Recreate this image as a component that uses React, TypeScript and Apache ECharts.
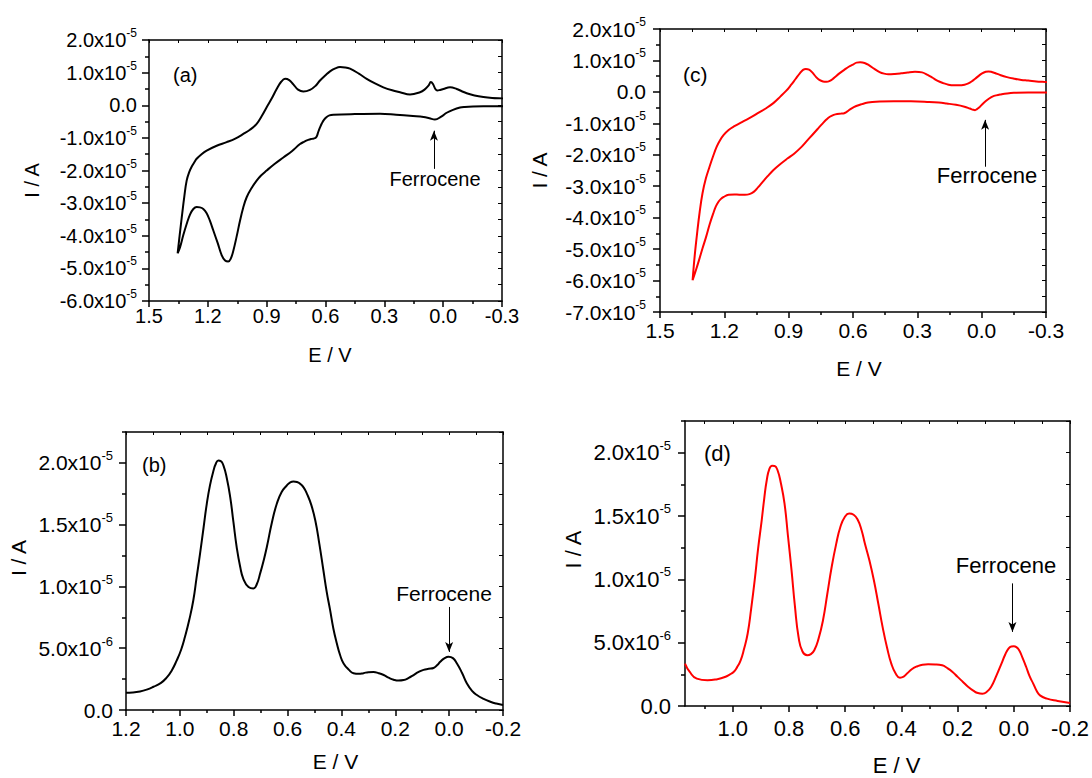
import React, { useEffect, useRef } from "react";
import * as echarts from "echarts";

const FONT = '"Liberation Sans", Arial, Helvetica, sans-serif';

// ---------- Panel (a): CV, black ----------
const cvA_E = [
  1.354, 1.343, 1.333, 1.320, 1.308, 1.295, 1.282, 1.268, 1.257, 1.232, 1.206, 1.155, 1.104, 1.060, 1.019, 0.985,
  0.951, 0.925, 0.900, 0.873, 0.849, 0.826, 0.806, 0.785, 0.764, 0.740, 0.713, 0.679, 0.650, 0.628, 0.600, 0.577,
  0.550, 0.526, 0.500, 0.475, 0.430, 0.390, 0.345, 0.305, 0.260, 0.220, 0.169, 0.118, 0.095, 0.075, 0.063, 0.052,
  0.040, 0.030, 0.015, -0.001, -0.035, -0.069, -0.095, -0.120, -0.160, -0.205, -0.250, -0.310,
  -0.310, -0.205, -0.152, -0.110, -0.086, -0.050, -0.018, 0.010, 0.042, 0.070, 0.100, 0.154, 0.240, 0.322, 0.450,
  0.560, 0.580, 0.594, 0.607, 0.619, 0.628, 0.637, 0.645, 0.653, 0.670, 0.688, 0.710, 0.730, 0.770, 0.815, 0.860,
  0.900, 0.930, 0.951, 0.975, 1.002, 1.020, 1.036, 1.053, 1.070, 1.083, 1.096, 1.112, 1.129, 1.150, 1.172, 1.190,
  1.206, 1.223, 1.240, 1.257, 1.274, 1.291, 1.308, 1.325, 1.342, 1.354,
];
const cvA_I = [
  -4.54e-5, -3.95e-5, -3.44e-5, -2.8e-5, -2.31e-5, -2.05e-5, -1.88e-5, -1.74e-5, -1.64e-5, -1.5e-5, -1.39e-5,
  -1.24e-5, -1.13e-5, -1.02e-5, -0.88e-5, -0.75e-5, -0.57e-5, -0.33e-5, -0.06e-5, 0.22e-5, 0.5e-5, 0.72e-5,
  0.81e-5, 0.77e-5, 0.64e-5, 0.48e-5, 0.42e-5, 0.47e-5, 0.6e-5, 0.76e-5, 0.92e-5, 1.04e-5, 1.13e-5, 1.17e-5,
  1.16e-5, 1.12e-5, 0.97e-5, 0.81e-5, 0.66e-5, 0.55e-5, 0.46e-5, 0.4e-5, 0.33e-5, 0.4e-5, 0.48e-5, 0.6e-5,
  0.71e-5, 0.65e-5, 0.5e-5, 0.45e-5, 0.47e-5, 0.5e-5, 0.55e-5, 0.5e-5, 0.43e-5, 0.37e-5, 0.3e-5, 0.25e-5,
  0.22e-5, 0.2e-5,
  -0.03e-5, -0.03e-5, -0.035e-5, -0.05e-5, -0.07e-5, -0.14e-5, -0.23e-5, -0.35e-5, -0.44e-5, -0.4e-5, -0.36e-5,
  -0.33e-5, -0.29e-5, -0.26e-5, -0.27e-5, -0.29e-5, -0.31e-5, -0.36e-5, -0.44e-5, -0.56e-5, -0.68e-5, -0.82e-5,
  -0.96e-5, -1.01e-5, -1.03e-5, -1.06e-5, -1.12e-5, -1.19e-5, -1.4e-5, -1.6e-5, -1.8e-5, -2.0e-5, -2.16e-5,
  -2.31e-5, -2.52e-5, -2.82e-5, -3.15e-5, -3.54e-5, -4.02e-5, -4.46e-5, -4.7e-5, -4.79e-5, -4.76e-5, -4.6e-5,
  -4.22e-5, -3.84e-5, -3.53e-5, -3.31e-5, -3.18e-5, -3.13e-5, -3.12e-5, -3.18e-5, -3.35e-5, -3.64e-5, -3.98e-5,
  -4.36e-5, -4.54e-5,
];

// ---------- Panel (c): CV, red ----------
const cvC_E = [
  1.348, 1.338, 1.327, 1.315, 1.302, 1.286, 1.269, 1.252, 1.236, 1.220, 1.203, 1.180, 1.153, 1.110, 1.071, 1.040,
  1.005, 0.970, 0.939, 0.912, 0.889, 0.868, 0.848, 0.833, 0.820, 0.805, 0.790, 0.772, 0.757, 0.740, 0.724, 0.708,
  0.691, 0.665, 0.641, 0.620, 0.600, 0.583, 0.567, 0.546, 0.526, 0.500, 0.476, 0.455, 0.435, 0.405, 0.377, 0.345,
  0.311, 0.278, 0.252, 0.229, 0.205, 0.179, 0.155, 0.130, 0.105, 0.080, 0.062, 0.047, 0.030, 0.014, -0.002,
  -0.019, -0.032, -0.044, -0.062, -0.085, -0.118, -0.151, -0.185, -0.217, -0.255, -0.310,
  -0.310, -0.217, -0.150, -0.118, -0.090, -0.068, -0.050, -0.035, -0.018, -0.002, 0.012, 0.022, 0.031, 0.039,
  0.055, 0.080, 0.120, 0.163, 0.200, 0.245, 0.330, 0.410, 0.493, 0.530, 0.559, 0.585, 0.608, 0.622, 0.633, 0.641,
  0.655, 0.674, 0.690, 0.708, 0.724, 0.741, 0.765, 0.790, 0.815, 0.840, 0.872, 0.906, 0.940, 0.972, 0.998, 1.021,
  1.042, 1.063, 1.083, 1.104, 1.130, 1.153, 1.180, 1.203, 1.217, 1.228, 1.240, 1.252, 1.268, 1.285, 1.302, 1.318,
  1.333, 1.348,
];
const cvC_I = [
  -5.99e-5, -5.2e-5, -4.5e-5, -3.82e-5, -3.23e-5, -2.75e-5, -2.38e-5, -2.04e-5, -1.75e-5, -1.54e-5, -1.37e-5,
  -1.21e-5, -1.09e-5, -0.93e-5, -0.79e-5, -0.66e-5, -0.52e-5, -0.35e-5, -0.15e-5, 0.03e-5, 0.22e-5, 0.41e-5,
  0.59e-5, 0.7e-5, 0.73e-5, 0.71e-5, 0.62e-5, 0.47e-5, 0.38e-5, 0.33e-5, 0.32e-5, 0.35e-5, 0.43e-5, 0.58e-5,
  0.7e-5, 0.8e-5, 0.87e-5, 0.93e-5, 0.94e-5, 0.92e-5, 0.85e-5, 0.73e-5, 0.63e-5, 0.58e-5, 0.56e-5, 0.57e-5,
  0.59e-5, 0.62e-5, 0.64e-5, 0.62e-5, 0.54e-5, 0.45e-5, 0.35e-5, 0.28e-5, 0.23e-5, 0.21e-5, 0.21e-5, 0.23e-5,
  0.27e-5, 0.33e-5, 0.42e-5, 0.51e-5, 0.59e-5, 0.64e-5, 0.65e-5, 0.64e-5, 0.6e-5, 0.54e-5, 0.47e-5, 0.42e-5,
  0.38e-5, 0.36e-5, 0.33e-5, 0.3e-5,
  -0.02e-5, -0.02e-5, -0.03e-5, -0.05e-5, -0.08e-5, -0.11e-5, -0.15e-5, -0.21e-5, -0.3e-5, -0.4e-5, -0.5e-5,
  -0.55e-5, -0.58e-5, -0.57e-5, -0.53e-5, -0.47e-5, -0.41e-5, -0.37e-5, -0.34e-5, -0.32e-5, -0.3e-5, -0.3e-5,
  -0.31e-5, -0.34e-5, -0.39e-5, -0.45e-5, -0.53e-5, -0.6e-5, -0.65e-5, -0.68e-5, -0.69e-5, -0.7e-5, -0.73e-5,
  -0.79e-5, -0.88e-5, -1.0e-5, -1.18e-5, -1.37e-5, -1.56e-5, -1.75e-5, -1.95e-5, -2.12e-5, -2.3e-5, -2.49e-5,
  -2.68e-5, -2.86e-5, -3.03e-5, -3.18e-5, -3.25e-5, -3.27e-5, -3.27e-5, -3.26e-5, -3.27e-5, -3.34e-5, -3.41e-5,
  -3.5e-5, -3.65e-5, -3.87e-5, -4.2e-5, -4.61e-5, -4.98e-5, -5.35e-5, -5.68e-5, -5.99e-5,
];

// ---------- Panel (b): DPV, black ----------
const dpvB_E = [
  1.2, 1.175, 1.148, 1.123, 1.098, 1.070, 1.049, 1.030, 1.012, 0.995, 0.981, 0.965, 0.95, 0.938, 0.925, 0.912,
  0.9, 0.888, 0.875, 0.866, 0.857, 0.848, 0.838, 0.826, 0.813, 0.801, 0.789, 0.776, 0.764, 0.745, 0.727, 0.714,
  0.702, 0.690, 0.677, 0.658, 0.64, 0.622, 0.603, 0.590, 0.578, 0.565, 0.553, 0.540, 0.528, 0.512, 0.497, 0.482,
  0.467, 0.455, 0.442, 0.430, 0.417, 0.405, 0.392, 0.372, 0.355, 0.336, 0.318, 0.300, 0.281, 0.262, 0.243, 0.225,
  0.206, 0.188, 0.169, 0.150, 0.132, 0.113, 0.095, 0.076, 0.058, 0.045, 0.033, 0.018, 0.002, -0.014, -0.029,
  -0.048, -0.066, -0.085, -0.103, -0.128, -0.153, -0.175, -0.2,
];
const dpvB_I = [
  1.4e-6, 1.42e-6, 1.5e-6, 1.65e-6, 1.88e-6, 2.2e-6, 2.62e-6, 3.2e-6, 4.0e-6, 4.9e-6, 5.92e-6, 7.3e-6, 8.88e-6,
  10.7e-6, 12.65e-6, 14.75e-6, 16.69e-6, 18.2e-6, 19.38e-6, 19.95e-6, 20.19e-6, 20.15e-6, 19.78e-6, 18.8e-6,
  17.23e-6, 15.2e-6, 13.19e-6, 11.6e-6, 10.6e-6, 9.95e-6, 9.83e-6, 10.2e-6, 11.04e-6, 12.0e-6, 13.19e-6,
  15.2e-6, 16.69e-6, 17.65e-6, 18.17e-6, 18.42e-6, 18.49e-6, 18.45e-6, 18.3e-6, 18.0e-6, 17.5e-6, 16.6e-6,
  15.34e-6, 13.45e-6, 11.31e-6, 9.6e-6, 8.08e-6, 6.6e-6, 5.38e-6, 4.45e-6, 3.77e-6, 3.25e-6, 2.98e-6, 2.93e-6,
  2.98e-6, 3.06e-6, 3.07e-6, 2.98e-6, 2.83e-6, 2.62e-6, 2.45e-6, 2.38e-6, 2.42e-6, 2.6e-6, 2.83e-6, 3.08e-6,
  3.25e-6, 3.33e-6, 3.4e-6, 3.62e-6, 3.9e-6, 4.18e-6, 4.31e-6, 4.2e-6, 3.77e-6, 3.0e-6, 2.15e-6, 1.55e-6,
  1.21e-6, 0.9e-6, 0.67e-6, 0.52e-6, 0.4e-6,
];

// ---------- Panel (d): DPV, red ----------
const dpvD_E = [
  1.17, 1.153, 1.128, 1.09, 1.055, 1.028, 1.010, 0.997, 0.985, 0.972, 0.960, 0.947, 0.935, 0.922, 0.910, 0.897,
  0.888, 0.879, 0.870, 0.86, 0.851, 0.841, 0.829, 0.816, 0.804, 0.791, 0.779, 0.766, 0.752, 0.735, 0.722, 0.71,
  0.695, 0.679, 0.664, 0.648, 0.632, 0.617, 0.602, 0.586, 0.570, 0.555, 0.542, 0.53, 0.514, 0.498, 0.482, 0.467,
  0.451, 0.436, 0.420, 0.405, 0.392, 0.38, 0.362, 0.343, 0.325, 0.305, 0.280, 0.255, 0.237, 0.218, 0.200, 0.181,
  0.162, 0.143, 0.128, 0.112, 0.097, 0.081, 0.062, 0.044, 0.031, 0.019, 0.009, 0.0, -0.009, -0.019, -0.031,
  -0.044, -0.056, -0.069, -0.081, -0.093, -0.118, -0.156, -0.2,
];
const dpvD_I = [
  3.35e-6, 2.69e-6, 2.16e-6, 2.03e-6, 2.12e-6, 2.29e-6, 2.5e-6, 2.69e-6, 3.05e-6, 3.61e-6, 4.5e-6, 5.72e-6,
  7.6e-6, 9.93e-6, 12.4e-6, 14.68e-6, 16.4e-6, 17.84e-6, 18.7e-6, 18.97e-6, 18.95e-6, 18.63e-6, 17.6e-6,
  16.0e-6, 13.5e-6, 10.72e-6, 7.9e-6, 5.45e-6, 4.3e-6, 4.0e-6, 4.1e-6, 4.4e-6, 5.3e-6, 6.77e-6, 8.8e-6,
  10.99e-6, 12.8e-6, 14.15e-6, 14.9e-6, 15.2e-6, 15.1e-6, 14.68e-6, 13.9e-6, 12.83e-6, 11.5e-6, 9.93e-6,
  8.05e-6, 6.25e-6, 4.6e-6, 3.35e-6, 2.55e-6, 2.24e-6, 2.32e-6, 2.56e-6, 2.92e-6, 3.14e-6, 3.26e-6, 3.29e-6,
  3.28e-6, 3.21e-6, 3.0e-6, 2.69e-6, 2.3e-6, 1.9e-6, 1.5e-6, 1.19e-6, 1.02e-6, 0.97e-6, 1.1e-6, 1.5e-6,
  2.4e-6, 3.35e-6, 4.05e-6, 4.53e-6, 4.7e-6, 4.72e-6, 4.65e-6, 4.4e-6, 3.8e-6, 3.08e-6, 2.35e-6, 1.77e-6,
  1.2e-6, 0.84e-6, 0.58e-6, 0.4e-6, 0.24e-6,
];

// ---------- Tick values ----------
const cvX_major = [1.5, 1.2, 0.9, 0.6, 0.3, 0.0, -0.3];
const cvX_minor = [1.35, 1.05, 0.75, 0.45, 0.15, -0.15];
const cvA_Y_major = [2e-5, 1e-5, 0, -1e-5, -2e-5, -3e-5, -4e-5, -5e-5, -6e-5];
const cvA_Y_minor = [1.5e-5, 0.5e-5, -0.5e-5, -1.5e-5, -2.5e-5, -3.5e-5, -4.5e-5, -5.5e-5];
const cvC_Y_major = [2e-5, 1e-5, 0, -1e-5, -2e-5, -3e-5, -4e-5, -5e-5, -6e-5, -7e-5];
const cvC_Y_minor = [1.5e-5, 0.5e-5, -0.5e-5, -1.5e-5, -2.5e-5, -3.5e-5, -4.5e-5, -5.5e-5, -6.5e-5];
const dpvB_X_major = [1.2, 1.0, 0.8, 0.6, 0.4, 0.2, 0.0, -0.2];
const dpvD_X_major = [1.0, 0.8, 0.6, 0.4, 0.2, 0.0, -0.2];
const dpvX_minor = [1.1, 0.9, 0.7, 0.5, 0.3, 0.1, -0.1];
const dpvY_major = [0, 5e-6, 1e-5, 1.5e-5, 2e-5];
const dpvY_minor = [2.5e-6, 7.5e-6, 1.25e-5, 1.75e-5, 2.25e-5];

// ---------- Annotations (data coordinates) ----------
const arrowA = { e: 0.047, from: -1.95e-5, to: -0.78e-5 };
const arrowC = { e: -0.016, from: -2.38e-5, to: -0.89e-5 };
const arrowB = { e: 0.0, from: 8.34e-6, to: 4.7e-6 };
const arrowD = { e: 0.005, from: 9.68e-6, to: 5.85e-6 };

const pairs = (xs: number[], ys: number[]) => xs.map((x, i) => [x, ys[i]]);

function sciLabel(v: number): string {
  if (Math.abs(v) < 1e-12) return "{m|0.0}";
  const e = Math.floor(Math.log10(Math.abs(v)) + 1e-9);
  const m = v / Math.pow(10, e);
  return `{m|${m.toFixed(1)}x10}{e|${e}}`;
}
function xLabel(v: number): string {
  if (Math.abs(v) < 1e-9) return "0.0";
  return v.toFixed(1);
}

export default function App() {
  const ref = useRef<HTMLDivElement>(null);
  useEffect(() => {
    const chart = echarts.init(ref.current!, null, { renderer: "svg" });

    const panels = [
      {
        grid: { left: 149, top: 40, width: 353, height: 261 },
        xMin: -0.3, xMax: 1.5, yMin: -6e-5, yMax: 2e-5, fs: 20, sup: 12,
        xMajor: cvX_major, xMinor: cvX_minor, yMajor: cvA_Y_major, yMinor: cvA_Y_minor,
        xLabelMargin: 5, yLabelMargin: 12,
        xNameGap: 44, xNamePad: [0, 0, 0, 9], yNameGap: 107, yNamePad: [0, 20, 0, 0],
        color: "#000000", data: pairs(cvA_E, cvA_I), arrow: arrowA, smooth: 0.4,
      },
      {
        grid: { left: 660, top: 29, width: 386, height: 283 },
        xMin: -0.3, xMax: 1.5, yMin: -7e-5, yMax: 2e-5, fs: 21, sup: 12,
        xMajor: cvX_major, xMinor: cvX_minor, yMajor: cvC_Y_major, yMinor: cvC_Y_minor,
        xLabelMargin: 8, yLabelMargin: 14,
        xNameGap: 46, xNamePad: [0, 0, 0, 12], yNameGap: 110, yNamePad: [0, 0, 0, 0],
        color: "#ff0000", data: pairs(cvC_E, cvC_I), arrow: arrowC, smooth: 0.4,
      },
      {
        grid: { left: 126, top: 432, width: 377, height: 278 },
        xMin: -0.2, xMax: 1.2, yMin: 0, yMax: 2.25e-5, fs: 21, sup: 13,
        xMajor: dpvB_X_major, xMinor: dpvX_minor, yMajor: dpvY_major, yMinor: dpvY_minor,
        xLabelMargin: 8, yLabelMargin: 13,
        xNameGap: 41, xNamePad: [0, 0, 0, 42], yNameGap: 97, yNamePad: [0, 0, 0, 26],
        color: "#000000", data: pairs(dpvB_E, dpvB_I), arrow: arrowB, smooth: 0.5,
      },
      {
        grid: { left: 685, top: 421, width: 388, height: 285 },
        xMin: -0.2, xMax: 1.17, yMin: 0, yMax: 2.25e-5, fs: 22, sup: 13,
        xMajor: dpvD_X_major, xMinor: dpvX_minor, yMajor: dpvY_major, yMinor: dpvY_minor,
        xLabelMargin: 11, yLabelMargin: 14,
        xNameGap: 48, xNamePad: [0, 0, 0, 38], yNameGap: 101, yNamePad: [0, 0, 0, 28],
        color: "#ff0000", data: pairs(dpvD_E, dpvD_I), arrow: arrowD, smooth: 0.5,
      },
    ];

    const black = "#000000";
    const lineW = 1.5;
    const grids: any[] = [];
    const xAxes: any[] = [];
    const yAxes: any[] = [];
    const series: any[] = [];

    panels.forEach((p, i) => {
      grids.push({ ...p.grid, containLabel: false });
      const xCommon = { type: "value", gridIndex: i, min: p.xMin, max: p.xMax, inverse: true, splitLine: { show: false } };
      const yCommon = { type: "value", gridIndex: i, min: p.yMin, max: p.yMax, splitLine: { show: false } };
      xAxes.push({
        ...xCommon,
        position: "bottom",
        axisLine: { show: true, onZero: false, lineStyle: { color: black, width: lineW } },
        axisTick: { show: true, inside: false, length: 6, customValues: p.xMajor, lineStyle: { color: black, width: lineW } },
        axisLabel: {
          customValues: p.xMajor, formatter: xLabel, margin: p.xLabelMargin,
          color: black, fontSize: p.fs, fontFamily: FONT,
        },
        name: "E / V", nameLocation: "middle", nameGap: p.xNameGap,
        nameTextStyle: { color: black, fontSize: p.fs, fontFamily: FONT, padding: p.xNamePad },
      });
      xAxes.push({
        ...xCommon,
        position: "bottom",
        axisLine: { show: false, onZero: false },
        axisTick: { show: true, inside: false, length: 3, customValues: p.xMinor, lineStyle: { color: black, width: lineW } },
        axisLabel: { show: false },
      });
      xAxes.push({
        ...xCommon,
        position: "top",
        axisLine: { show: true, onZero: false, lineStyle: { color: black, width: lineW } },
        axisTick: { show: true, inside: true, length: 3, customValues: [...p.xMajor, ...p.xMinor], lineStyle: { color: black, width: 1 } },
        axisLabel: { show: false },
      });
      yAxes.push({
        ...yCommon,
        position: "left",
        axisLine: { show: true, onZero: false, lineStyle: { color: black, width: lineW } },
        axisTick: { show: true, inside: false, length: 7, customValues: p.yMajor, lineStyle: { color: black, width: lineW } },
        axisLabel: {
          customValues: p.yMajor, formatter: sciLabel, margin: p.yLabelMargin, color: black,
          rich: {
            m: { fontSize: p.fs, fontFamily: FONT, color: black, lineHeight: p.fs + 6 },
            e: { fontSize: p.sup, fontFamily: FONT, color: black, lineHeight: p.sup, verticalAlign: "top" },
          },
        },
        name: "I / A", nameLocation: "middle", nameGap: p.yNameGap,
        nameTextStyle: { color: black, fontSize: p.fs, fontFamily: FONT, padding: p.yNamePad },
      });
      yAxes.push({
        ...yCommon,
        position: "left",
        axisLine: { show: false, onZero: false },
        axisTick: { show: true, inside: false, length: 4, customValues: p.yMinor, lineStyle: { color: black, width: lineW } },
        axisLabel: { show: false },
      });
      yAxes.push({
        ...yCommon,
        position: "right",
        axisLine: { show: true, onZero: false, lineStyle: { color: black, width: lineW } },
        axisTick: { show: true, inside: true, length: 4, customValues: [...p.yMajor, ...p.yMinor], lineStyle: { color: black, width: 1 } },
        axisLabel: { show: false },
      });

      series.push({
        type: "line",
        xAxisIndex: i * 3,
        yAxisIndex: i * 3,
        data: p.data,
        showSymbol: false,
        symbol: "none",
        smooth: p.smooth,
        lineStyle: { color: p.color, width: 2 },
        z: 5,
        markLine: {
          silent: true,
          symbol: ["none", "arrow"],
          symbolSize: [6, 10],
          label: { show: false },
          lineStyle: { color: black, width: 1, type: "solid" },
          data: [[{ coord: [p.arrow.e, p.arrow.from] }, { coord: [p.arrow.e, p.arrow.to] }]],
        },
      });
    });

    const txt = (text: string, x: number, y: number, align: string, size: number) => ({
      type: "text",
      x,
      y,
      style: {
        text,
        fill: black,
        font: `${size}px ${FONT}`,
        textAlign: align,
        textVerticalAlign: "middle",
      },
    });

    const option: any = {
      animation: false,
      backgroundColor: "#ffffff",
      grid: grids,
      xAxis: xAxes,
      yAxis: yAxes,
      series,
      graphic: [
        txt("(a)", 173, 75, "left", 20),
        txt("(b)", 142, 465, "left", 20),
        txt("(c)", 683, 74, "left", 21),
        txt("(d)", 704, 453, "left", 22),
        txt("Ferrocene", 435, 179, "center", 20),
        txt("Ferrocene", 444, 593, "center", 21),
        txt("Ferrocene", 987, 175, "center", 22),
        txt("Ferrocene", 1006, 565, "center", 22),
      ],
    };

    chart.setOption(option);
    return () => chart.dispose();
  }, []);

  return (
    <div
      ref={ref}
      style={{ position: "absolute", left: 0, top: 0, width: 1092, height: 778, background: "#ffffff" }}
    />
  );
}
